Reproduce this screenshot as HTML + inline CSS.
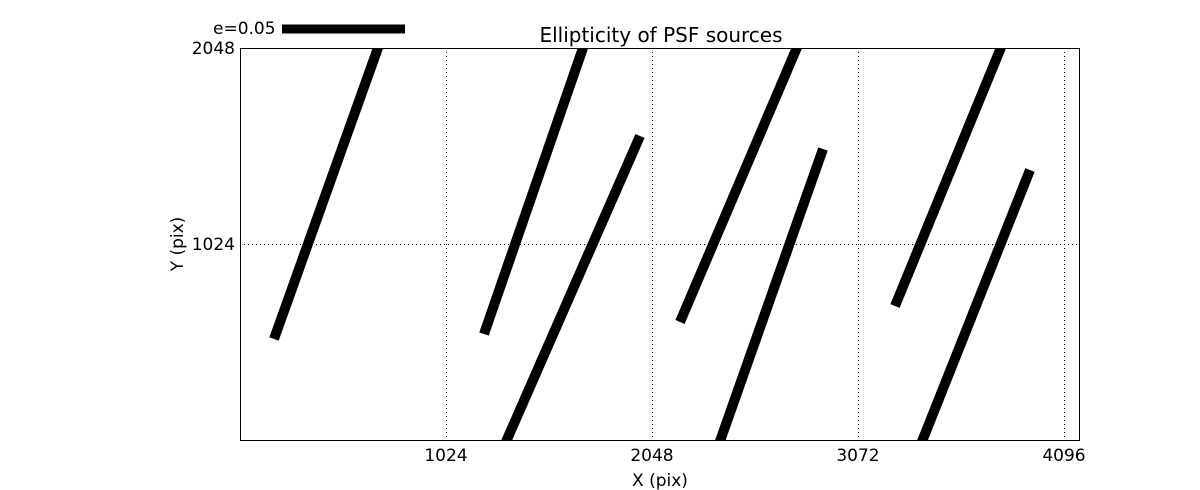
<!DOCTYPE html>
<html><head><meta charset="utf-8"><style>
html,body{margin:0;padding:0;background:#fff;}
svg{display:block;font-family:"DejaVu Sans","Liberation Sans",sans-serif;}
</style></head><body>
<svg width="1200" height="490" viewBox="0 0 1200 490" xmlns="http://www.w3.org/2000/svg">
<defs><clipPath id="c"><rect x="240" y="48" width="840" height="392"/></clipPath></defs>
<rect width="1200" height="490" fill="#fff"/>
<g stroke="#000" stroke-width="1" stroke-dasharray="1,3">
<line x1="446.5" y1="48" x2="446.5" y2="440"/>
<line x1="652.5" y1="48" x2="652.5" y2="440"/>
<line x1="858.5" y1="48" x2="858.5" y2="440"/>
<line x1="1064.5" y1="48" x2="1064.5" y2="440"/>
<line x1="240" y1="244.5" x2="1080" y2="244.5"/>
</g>
<g clip-path="url(#c)" stroke="#000" stroke-width="10" stroke-linecap="butt">
<line x1="274" y1="339" x2="379" y2="45"/>
<line x1="484" y1="334" x2="584" y2="45"/>
<line x1="505" y1="444" x2="640" y2="136"/>
<line x1="680" y1="322" x2="798" y2="45"/>
<line x1="719" y1="444" x2="823" y2="149"/>
<line x1="895" y1="306" x2="1002" y2="45"/>
<line x1="921" y1="444" x2="1030" y2="170"/>
</g>
<rect x="240.5" y="48.5" width="839" height="392" fill="none" stroke="#000" stroke-width="1"/>
<g font-size="17" fill="#000" text-anchor="middle">
<text x="446" y="461">1024</text>
<text x="652" y="461">2048</text>
<text x="858" y="461">3072</text>
<text x="1064" y="461">4096</text>
<text x="660" y="486">X (pix)</text>
<text x="661" y="42" font-size="20">Ellipticity of PSF sources</text>
</g>
<g font-size="17" fill="#000" text-anchor="end">
<text x="235" y="54">2048</text>
<text x="235" y="250">1024</text>
</g>
<text x="0" y="0" font-size="17" text-anchor="middle" transform="translate(183,244) rotate(-90)">Y (pix)</text>
<text x="213" y="34" font-size="17">e=0.05</text>
<line x1="282" y1="29" x2="405" y2="29" stroke="#000" stroke-width="9"/>
</svg>
</body></html>
